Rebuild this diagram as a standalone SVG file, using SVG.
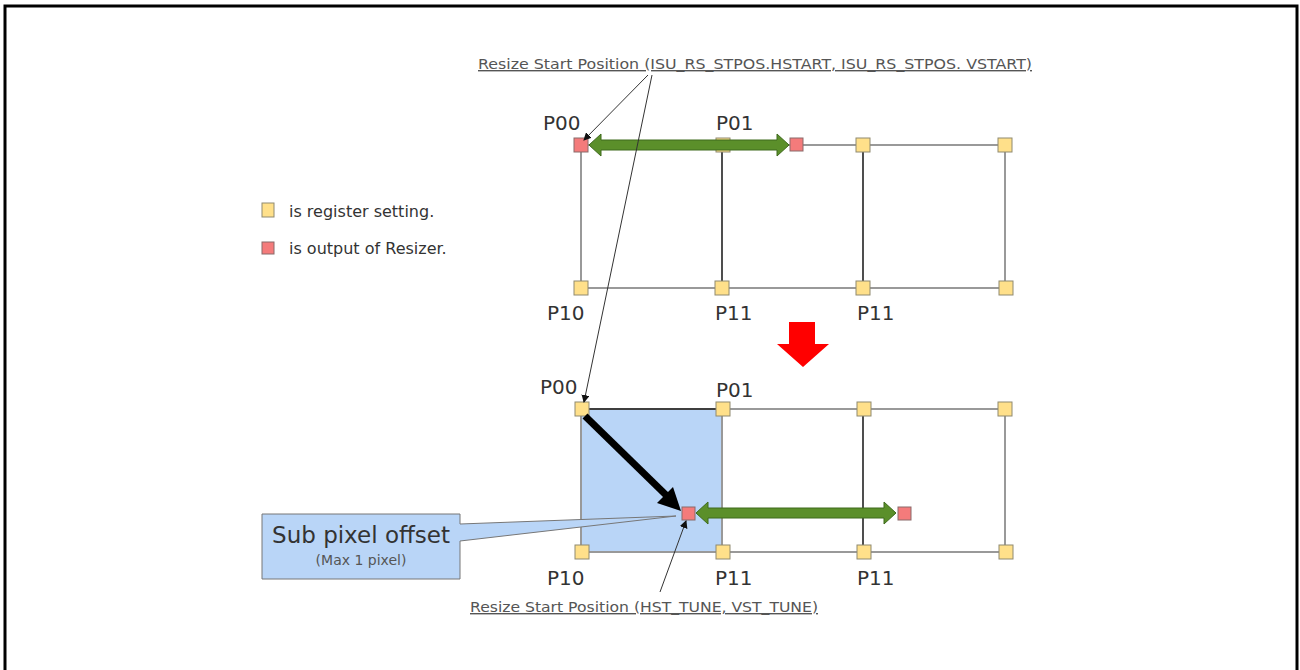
<svg xmlns="http://www.w3.org/2000/svg" width="1300" height="670" viewBox="0 0 1300 670">
<style>
.y{fill:#ffe08a;stroke:#8f8a70;stroke-width:1}
.r{fill:#f47b7b;stroke:#8a6a6a;stroke-width:1}
.g{stroke:#999;stroke-width:2;fill:none}
.k{stroke:#222;stroke-width:1.6;fill:none}
.lbl{font-family:"DejaVu Sans",sans-serif;font-size:20px;fill:#333}
.leg{font-family:"DejaVu Sans",sans-serif;font-size:16px;fill:#333}
.ann{font-family:"DejaVu Sans",sans-serif;font-size:14px;fill:#555;text-decoration:underline}
.thin{stroke:#333;stroke-width:1;fill:none}
.grn{fill:#5b8f2a;stroke:#3e6a1c;stroke-width:1}
</style>
<defs>
<marker id="ah" markerWidth="8" markerHeight="8" refX="7" refY="4" orient="auto" markerUnits="userSpaceOnUse">
<path d="M0,0 L8,4 L0,8 Z" fill="#111"/>
</marker>
</defs>
<rect x="5" y="6" width="1292" height="700" fill="none" stroke="#000" stroke-width="3"/>

<g id="legend">
<rect class="y" x="262" y="203" width="12" height="14"/>
<text class="leg" x="289" y="217">is register setting.</text>
<rect class="r" x="262" y="242" width="12" height="12"/>
<text class="leg" x="289" y="254">is output of Resizer.</text>
</g>

<g id="top-grid">
<line class="g" x1="581" y1="145" x2="1005" y2="145"/>
<line class="g" x1="581" y1="288" x2="1005" y2="288"/>
<line class="g" x1="581" y1="145" x2="581" y2="288"/>
<line class="g" x1="1005" y1="145" x2="1005" y2="288"/>
<line class="k" x1="722" y1="145" x2="722" y2="288"/>
<line class="k" x1="863" y1="145" x2="863" y2="288"/>
<rect class="y" x="716" y="138" width="14" height="14"/>
<rect class="y" x="856" y="138" width="14" height="14"/>
<rect class="y" x="998" y="138" width="14" height="14"/>
<rect class="y" x="574" y="281" width="14" height="14"/>
<rect class="y" x="715" y="281" width="14" height="14"/>
<rect class="y" x="856" y="281" width="14" height="14"/>
<rect class="y" x="999" y="281" width="14" height="14"/>
<rect class="r" x="574" y="138" width="14" height="14"/>
<rect class="r" x="790" y="138" width="13" height="13"/>
<path class="grn" d="M589,145 L601,134 L601,140 L777,140 L777,134 L789,145 L777,156 L777,150 L601,150 L601,156 Z"/>
<text class="lbl" x="543" y="130">P00</text>
<text class="lbl" x="716" y="130">P01</text>
<text class="lbl" x="547" y="320">P10</text>
<text class="lbl" x="715" y="320">P11</text>
<text class="lbl" x="857" y="320">P11</text>
</g>

<g id="down-arrow">
<path d="M789,322 L815,322 L815,344 L829,344 L803,367 L777,344 L789,344 Z" fill="#ff0000"/>
</g>

<g id="bottom-grid">
<rect x="581" y="409" width="141" height="143" fill="#b9d5f7"/>
<line class="g" x1="581" y1="409" x2="1005" y2="409"/>
<line class="g" x1="581" y1="552" x2="1005" y2="552"/>
<line class="g" x1="581" y1="409" x2="581" y2="552"/>
<line class="g" x1="722" y1="409" x2="722" y2="552"/>
<line class="g" x1="1005" y1="409" x2="1005" y2="552"/>
<line class="k" x1="581" y1="409" x2="722" y2="409"/>
<line class="k" x1="863" y1="409" x2="863" y2="552"/>
<rect class="y" x="575" y="402" width="14" height="14"/>
<rect class="y" x="716" y="402" width="14" height="14"/>
<rect class="y" x="857" y="402" width="14" height="14"/>
<rect class="y" x="998" y="402" width="14" height="14"/>
<rect class="y" x="575" y="545" width="14" height="14"/>
<rect class="y" x="716" y="545" width="14" height="14"/>
<rect class="y" x="857" y="545" width="14" height="14"/>
<rect class="y" x="999" y="545" width="14" height="14"/>
<text class="lbl" x="540" y="394">P00</text>
<text class="lbl" x="716" y="397">P01</text>
<text class="lbl" x="547" y="585">P10</text>
<text class="lbl" x="715" y="585">P11</text>
<text class="lbl" x="857" y="585">P11</text>
</g>

<g id="offset-arrow">
<line x1="585" y1="416" x2="666" y2="495" stroke="#000" stroke-width="7"/>
<path d="M681,511 L657,503 L673,487 Z" fill="#000"/>
</g>

<g id="bottom-output">
<rect class="r" x="682" y="507" width="13" height="13"/>
<rect class="r" x="898" y="507" width="13" height="13"/>
<path class="grn" d="M696,513 L708,502 L708,508 L884,508 L884,502 L896,513 L884,524 L884,518 L708,518 L708,524 Z"/>
</g>

<g id="callout">
<path d="M262,514 L460,514 L460,524 L676,516 L460,541 L460,579 L262,579 Z" fill="#b9d5f7" stroke="#777" stroke-width="1"/>
<text x="361" y="543" text-anchor="middle" font-family="DejaVu Sans,sans-serif" font-size="23" fill="#333">Sub pixel offset</text>
<text x="361" y="565" text-anchor="middle" font-family="DejaVu Sans,sans-serif" font-size="14" fill="#555">(Max 1 pixel)</text>
</g>

<g id="connectors">
<line class="thin" x1="648" y1="75" x2="584" y2="140" marker-end="url(#ah)"/>
<line class="thin" x1="652" y1="75" x2="584" y2="402" marker-end="url(#ah)"/>
<line class="thin" x1="660" y1="592" x2="686" y2="521" marker-end="url(#ah)"/>
</g>

<g id="annotations">
<text class="ann" x="478" y="69" textLength="554" lengthAdjust="spacingAndGlyphs">Resize Start Position (ISU_RS_STPOS.HSTART, ISU_RS_STPOS. VSTART)</text>
<text class="ann" x="470" y="612" textLength="348" lengthAdjust="spacingAndGlyphs">Resize Start Position (HST_TUNE, VST_TUNE)</text>
</g>
</svg>
